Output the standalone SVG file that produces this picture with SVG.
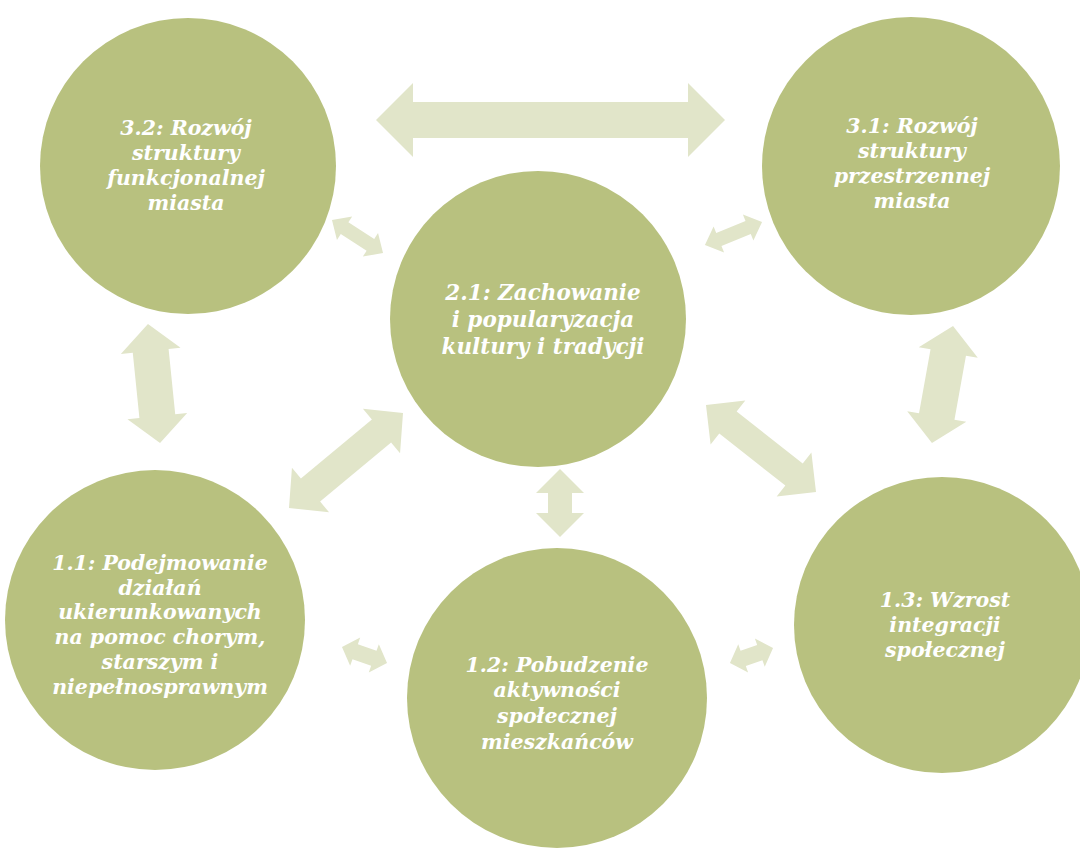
<svg xmlns="http://www.w3.org/2000/svg" width="1080" height="855" viewBox="0 0 1080 855">
<style>
.node{fill:#b8c17f;}
.arr{fill:#e1e5c9;}
.t{font-family:"DejaVu Serif","Liberation Serif",serif;font-weight:bold;font-style:italic;fill:#ffffff;text-anchor:middle;font-size:20.5px;}
.tc{font-size:21.5px;}
</style>
<rect width="1080" height="855" fill="#ffffff"/>
<g id="connectors">
<path class="arr" transform="translate(550.5,120)" d="M-174.5 0 L-137.5 -37 L-137.5 -18 L137.5 -18 L137.5 -37 L174.5 0 L137.5 37 L137.5 18 L-137.5 18 L-137.5 37 Z"/>
<path class="arr" transform="translate(357.5,236.5) rotate(32.9)" d="M-30.4 0 L-15.4 -14 L-15.4 -7 L15.4 -7 L15.4 -14 L30.4 0 L15.4 14 L15.4 7 L-15.4 7 L-15.4 14 Z"/>
<path class="arr" transform="translate(733.5,233.5) rotate(-22)" d="M-30.8 0 L-15.8 -14 L-15.8 -7 L15.8 -7 L15.8 -14 L30.8 0 L15.8 14 L15.8 7 L-15.8 7 L-15.8 14 Z"/>
<path class="arr" transform="translate(154,383.5) rotate(84.2)" d="M-59.8 0 L-32.8 -30 L-32.8 -18 L32.8 -18 L32.8 -30 L59.8 0 L32.8 30 L32.8 18 L-32.8 18 L-32.8 30 Z"/>
<path class="arr" transform="translate(942.5,384.5) rotate(100.2)" d="M-59.5 0 L-32.5 -30 L-32.5 -18 L32.5 -18 L32.5 -30 L59.5 0 L32.5 30 L32.5 18 L-32.5 18 L-32.5 30 Z"/>
<path class="arr" transform="translate(346,460.5) rotate(140.2)" d="M-74.2 0 L-46.2 -29 L-46.2 -15 L46.2 -15 L46.2 -29 L74.2 0 L46.2 29 L46.2 15 L-46.2 15 L-46.2 29 Z"/>
<path class="arr" transform="translate(761,448.5) rotate(38.3)" d="M-70.1 0 L-42.1 -28 L-42.1 -14 L42.1 -14 L42.1 -28 L70.1 0 L42.1 28 L42.1 14 L-42.1 14 L-42.1 28 Z"/>
<path class="arr" transform="translate(560,503) rotate(90)" d="M-34 0 L-10 -24 L-10 -12 L10 -12 L10 -24 L34 0 L10 24 L10 12 L-10 12 L-10 24 Z"/>
<path class="arr" transform="translate(364.5,655) rotate(19.6)" d="M-23.9 0 L-9.9 -15 L-9.9 -8 L9.9 -8 L9.9 -15 L23.9 0 L9.9 15 L9.9 8 L-9.9 8 L-9.9 15 Z"/>
<path class="arr" transform="translate(751.5,655.5) rotate(-19.2)" d="M-22.8 0 L-8.8 -15 L-8.8 -8 L8.8 -8 L8.8 -15 L22.8 0 L8.8 15 L8.8 8 L-8.8 8 L-8.8 15 Z"/>
</g>
<g id="n32">
<circle class="node" cx="188" cy="166" r="148"/>
<text class="t" x="186"><tspan x="186" y="135">3.2: Rozwój</tspan><tspan x="186" y="160">struktury</tspan><tspan x="186" y="185">funkcjonalnej</tspan><tspan x="186" y="210">miasta</tspan></text>
</g>
<g id="n31">
<circle class="node" cx="911" cy="166" r="149"/>
<text class="t" x="912"><tspan x="912" y="133">3.1: Rozwój</tspan><tspan x="912" y="158">struktury</tspan><tspan x="912" y="183">przestrzennej</tspan><tspan x="912" y="208">miasta</tspan></text>
</g>
<g id="n21">
<circle class="node" cx="538" cy="319" r="148"/>
<text class="t tc" x="543"><tspan x="543" y="300">2.1: Zachowanie</tspan><tspan x="543" y="327">i popularyzacja</tspan><tspan x="543" y="354">kultury i tradycji</tspan></text>
</g>
<g id="n11">
<circle class="node" cx="155" cy="620" r="150"/>
<text class="t" x="160"><tspan x="160" y="570">1.1: Podejmowanie</tspan><tspan x="160" y="595">działań</tspan><tspan x="160" y="619">ukierunkowanych</tspan><tspan x="160" y="644">na pomoc chorym,</tspan><tspan x="160" y="669">starszym i</tspan><tspan x="160" y="694">niepełnosprawnym</tspan></text>
</g>
<g id="n12">
<circle class="node" cx="557" cy="698" r="150"/>
<text class="t" x="557"><tspan x="557" y="672">1.2: Pobudzenie</tspan><tspan x="557" y="697">aktywności</tspan><tspan x="557" y="723">społecznej</tspan><tspan x="557" y="749">mieszkańców</tspan></text>
</g>
<g id="n13">
<circle class="node" cx="942" cy="625" r="148"/>
<text class="t" x="945"><tspan x="945" y="607">1.3: Wzrost</tspan><tspan x="945" y="632">integracji</tspan><tspan x="945" y="657">społecznej</tspan></text>
</g>
</svg>
